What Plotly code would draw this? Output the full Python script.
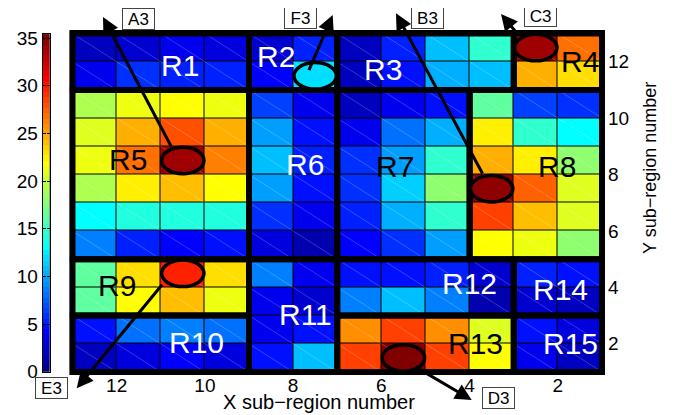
import numpy as np
import plotly.graph_objects as go

# ---------------- data ----------------
x_edges = [13, 12, 11, 10, 9, 8, 7, 6, 5, 4, 3, 2, 1]
y_edges = [1, 2, 3, 4, 5, 6, 7, 8, 9, 10, 11, 12, 13]

# cell values, rows listed from top (y 12-13) to bottom (y 1-2), columns left (x 13-12) to right (x 2-1)
row01 = [1.8, 2.6, 3.4, 2.8, 2.5, 5.0, 1.8, 5.0, 11.0, 14.5, 34.0, 27.0]
row02 = [3.8, 6.0, 5.5, 5.0, 4.0, 12.0, 2.0, 4.5, 10.5, 10.7, 24.5, 23.0]
row03 = [19.0, 21.5, 22.0, 21.3, 6.5, 3.5, 1.8, 3.5, 4.5, 16.5, 6.5, 6.0]
row04 = [21.0, 24.8, 28.0, 24.5, 9.5, 4.5, 3.5, 7.8, 10.5, 22.5, 14.5, 12.8]
row05 = [21.5, 26.8, 34.0, 26.5, 11.0, 5.0, 6.0, 9.5, 14.5, 24.8, 22.5, 18.0]
row06 = [19.0, 22.5, 24.0, 22.0, 9.5, 4.5, 6.0, 11.5, 18.0, 34.3, 27.3, 21.0]
row07 = [13.1, 14.0, 14.0, 14.3, 6.0, 3.5, 5.3, 10.0, 14.5, 28.7, 24.0, 21.0]
row08 = [8.3, 5.3, 4.2, 4.5, 3.0, 1.3, 4.2, 6.0, 9.5, 22.0, 21.5, 18.0]
row09 = [16.5, 23.0, 29.5, 23.0, 8.3, 3.5, 4.5, 4.5, 5.0, 2.5, 5.0, 4.5]
row10 = [16.5, 21.7, 24.0, 21.5, 3.7, 2.5, 8.8, 10.7, 8.5, 1.5, 2.5, 1.8]
row11 = [4.5, 7.8, 8.3, 7.8, 3.7, 4.5, 25.5, 28.7, 25.5, 20.5, 4.8, 3.0]
row12 = [1.8, 3.0, 4.2, 3.2, 4.5, 10.8, 28.7, 35.4, 28.5, 22.0, 3.5, 1.8]

c_min = 0.0
c_max = 35.4
x_ticks = [2, 4, 6, 8, 10, 12]
y_ticks = [2, 4, 6, 8, 10, 12]
cbar_ticks = [0, 5, 10, 15, 20, 25, 30, 35]

region_names = ["R1", "R2", "R3", "R4", "R5", "R6", "R7", "R8",
                "R9", "R10", "R11", "R12", "R13", "R14", "R15"]
region_x_lo = [9, 7, 3, 1, 9, 7, 4, 1, 9, 9, 7, 3, 3, 1, 1]
region_x_hi = [13, 9, 7, 3, 13, 9, 7, 4, 13, 13, 9, 7, 7, 3, 3]
region_y_lo = [11, 11, 11, 11, 5, 5, 5, 5, 3, 1, 1, 3, 1, 3, 1]
region_y_hi = [13, 13, 13, 13, 11, 11, 11, 11, 5, 3, 5, 5, 3, 5, 3]

# highlighted cells (ellipses)
ell_x_lo = [10, 7, 2, 3, 10, 5]
ell_x_hi = [11, 8, 3, 4, 11, 6]
ell_y_lo = [8, 11, 12, 7, 4, 1]
ell_y_hi = [9, 12, 13, 8, 5, 2]

callout_names = ["A3", "F3", "C3", "B3", "E3", "D3"]

# ---------------- helpers ----------------
def matlab_jet(m=64):
    n = int(np.ceil(m / 4))
    u = np.concatenate([np.arange(1, n + 1) / n, np.ones(n - 1), np.arange(n, 0, -1) / n])
    g = int(np.ceil(n / 2)) - (1 if m % 4 == 1 else 0) + np.arange(1, len(u) + 1)
    r = g + n
    b = g - n
    g = g[g <= m]
    r = r[r <= m]
    b = b[b >= 1]
    J = np.zeros((m, 3))
    J[r - 1, 0] = u[:len(r)]
    J[g - 1, 1] = u[:len(g)]
    J[b - 1, 2] = u[len(u) - len(b):]
    return J

JET = matlab_jet(64)
def rgb(c):
    return "rgb(%d,%d,%d)" % tuple(int(round(v * 255)) for v in c)

colorscale = []
for i, c in enumerate(JET):
    colorscale.append([i / 64, rgb(c)])
    colorscale.append([(i + 1) / 64, rgb(c)])

def value_color(v):
    idx = int((v - c_min) / (c_max - c_min) * 64)
    idx = max(0, min(63, idx))
    return rgb(JET[idx])

rows_top_down = [row01, row02, row03, row04, row05, row06,
                 row07, row08, row09, row10, row11, row12]
z = rows_top_down[::-1]  # bottom-up for ascending y edges

# geometry: page body has an 8px margin, so the figure starts at (8, 8) in the window
OFF = 8
WIN_W, WIN_H = 676, 415
W, H = WIN_W - OFF, WIN_H - OFF
P_LEFT, P_RIGHT, P_TOP, P_BOT = 30, 605, 30, 375   # paper area in window pixels
PW, PH = P_RIGHT - P_LEFT, P_BOT - P_TOP
ML, MR, MT, MB = P_LEFT - OFF, W - (P_RIGHT - OFF), P_TOP - OFF, H - (P_BOT - OFF)
def px(xp):
    return (xp - P_LEFT) / PW
def py(yp):
    return (P_BOT - yp) / PH

FONT = "Liberation Sans, Arial, Helvetica, sans-serif"

fig = go.Figure()

fig.add_trace(go.Heatmap(
    z=z, x=x_edges, y=y_edges, colorscale=colorscale, zmin=c_min, zmax=c_max,
    showscale=False, xgap=1, ygap=1, hoverinfo="skip", xaxis="x", yaxis="y"))

# faint diagonal artefact lines in each cell
dxs, dys = [], []
for j in range(len(x_edges) - 1):
    for i in range(len(y_edges) - 1):
        dxs += [x_edges[j], x_edges[j + 1], None]
        dys += [y_edges[i + 1], y_edges[i], None]
fig.add_trace(go.Scatter(x=dxs, y=dys, mode="lines", hoverinfo="skip", showlegend=False,
                         line=dict(color="rgba(255,255,255,0.35)", width=0.6),
                         xaxis="x", yaxis="y"))

# colorbar as its own small heatmap
cb_edges = np.linspace(c_min, c_max, 65)
cb_z = [[(cb_edges[k] + cb_edges[k + 1]) / 2] for k in range(64)]
fig.add_trace(go.Heatmap(
    z=cb_z, x=[0, 1], y=cb_edges, colorscale=colorscale, zmin=c_min, zmax=c_max,
    showscale=False, hoverinfo="skip", xaxis="x2", yaxis="y2"))

shapes = []
for k in range(len(region_names)):
    shapes.append(dict(type="rect", xref="x", yref="y",
                       x0=region_x_lo[k], x1=region_x_hi[k],
                       y0=region_y_lo[k], y1=region_y_hi[k],
                       line=dict(color="black", width=6), fillcolor="rgba(0,0,0,0)",
                       layer="above"))
for k in range(len(ell_x_lo)):
    col = x_edges.index(ell_x_hi[k])
    row = y_edges.index(ell_y_lo[k])
    shapes.append(dict(type="circle", xref="x", yref="y",
                       x0=ell_x_lo[k] + 0.02, x1=ell_x_hi[k] - 0.02,
                       y0=ell_y_lo[k] + 0.03, y1=ell_y_hi[k] - 0.03,
                       line=dict(color="black", width=3.5),
                       fillcolor=value_color(z[row][col]), layer="above"))

annotations = []
label_x = [10.56, 8.39, 5.96, 1.49, 11.74, 7.73, 5.69, 2.01, 11.99, 10.18, 7.73, 4.01, 3.87, 1.95, 1.72]
label_y = [11.88, 12.17, 11.71, 12.02, 8.55, 8.37, 8.30, 8.30, 4.05, 2.06, 3.05, 4.12, 2.02, 3.94, 2.02]
label_col = ["white", "white", "white", "black", "black", "white", "black", "black",
             "black", "white", "white", "white", "black", "white", "white"]
for k, name in enumerate(region_names):
    annotations.append(dict(text=name, x=label_x[k], y=label_y[k], xref="x", yref="y",
                            xanchor="center", yanchor="middle",
                            showarrow=False, font=dict(family=FONT, size=30, color=label_col[k])))

# arrows: head pixel, tail pixel ; label box centre pixel (window pixels)
arrow_head = [(103, 17), (332.7, 15), (501, 14), (396, 13.3), (76.7, 388.3), (471.7, 400)]
arrow_tail = [(172, 148), (308.3, 71.7), (520, 37), (483.3, 175), (163.3, 283.3), (414, 366)]
box_centre = [(138.3, 18.7), (300.5, 17.5), (540, 15.7), (427.3, 17.8), (51.5, 387.5), (498.3, 398.3)]
for k, name in enumerate(callout_names):
    hx, hy = arrow_head[k]
    tx, ty = arrow_tail[k]
    annotations.append(dict(text="", x=px(hx), y=py(hy), xref="paper", yref="paper",
                            ax=tx - hx, ay=ty - hy, axref="pixel", ayref="pixel",
                            showarrow=True, arrowhead=2, arrowsize=1.1, arrowwidth=3,
                            arrowcolor="black", standoff=0, startstandoff=0))
    bx, by = box_centre[k]
    annotations.append(dict(text=name, x=px(bx), y=py(by), xref="paper", yref="paper",
                            xanchor="center", yanchor="middle",
                            showarrow=False, width=31, height=20, borderpad=0,
                            bgcolor="white", bordercolor="#444", borderwidth=1,
                            font=dict(family=FONT, size=17, color="black")))

annotations.append(dict(text="X sub\u2212region number", x=px(318.5), y=py(402),
                        xref="paper", yref="paper", showarrow=False,
                        xanchor="center", yanchor="middle",
                        font=dict(family=FONT, size=20, color="black")))
annotations.append(dict(text="Y sub\u2212region number", x=px(650), y=py(168),
                        xref="paper", yref="paper", showarrow=False, textangle=-90,
                        xanchor="center", yanchor="middle",
                        font=dict(family=FONT, size=18, color="black")))

# axis ranges so that grid edges land on the reference pixels
x_lo_px, x_hi_px = 72.5, 602.0      # window pixels of x=13 and x=1
y_top_px, y_bot_px = 33.5, 372.0    # window pixels of y=13 and y=1
main_left = 69.5
ux = (x_hi_px - x_lo_px) / 12
uy = (y_bot_px - y_top_px) / 12
x_range = [13 + (x_lo_px - main_left) / ux, 1 - (P_RIGHT - x_hi_px) / ux]
y_range = [1 - (P_BOT - y_bot_px) / uy, 13 + (y_top_px - P_TOP) / uy]

tickfont = dict(family=FONT, size=19, color="black")
fig.update_layout(
    width=W, height=H, template="none",
    margin=dict(l=ML, r=MR, t=MT, b=MB, pad=0),
    paper_bgcolor="white", plot_bgcolor="black",
    showlegend=False,
    xaxis=dict(domain=[px(main_left), 1], range=x_range, tickvals=x_ticks, ticks="",
               showgrid=False, zeroline=False, showline=False, tickfont=tickfont,
               ticklabelstandoff=-3, anchor="y", automargin=False),
    yaxis=dict(domain=[0, 1], range=y_range, tickvals=y_ticks, ticks="", side="right",
               showgrid=False, zeroline=False, showline=False, tickfont=tickfont,
               ticklabelstandoff=2, anchor="x", automargin=False),
    xaxis2=dict(domain=[px(42.7), px(49.5)], range=[0, 1], showticklabels=False, ticks="",
                showgrid=False, zeroline=False, showline=True, mirror=True,
                linecolor="black", linewidth=1, anchor="y2", automargin=False),
    yaxis2=dict(domain=[py(371.7), py(34.3)], range=[c_min, c_max], tickvals=cbar_ticks,
                ticks="inside", ticklen=3, tickcolor="black", side="left",
                showgrid=False, zeroline=False, showline=True, mirror="ticks",
                linecolor="black", linewidth=1, tickfont=tickfont, anchor="x2",
                automargin=False),
    shapes=shapes, annotations=annotations,
)

fig.write_html("out.html")
